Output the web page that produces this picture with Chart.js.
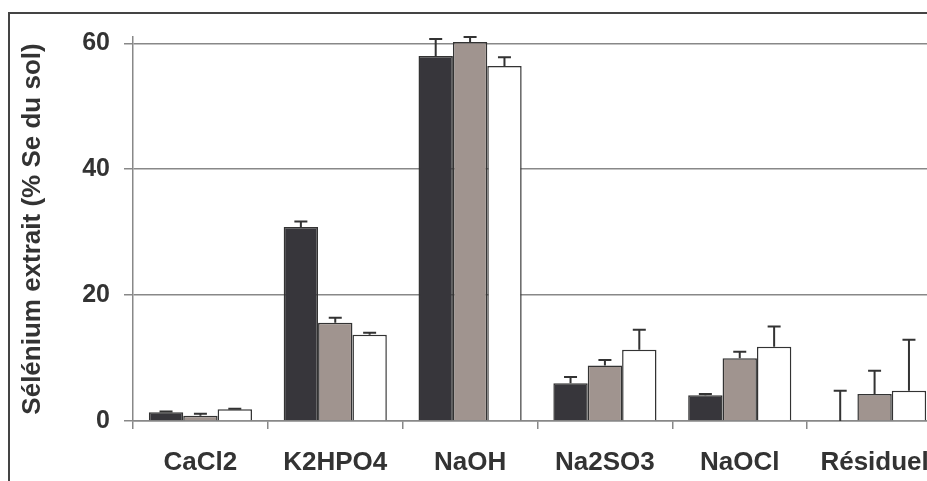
<!DOCTYPE html>
<html>
<head>
<meta charset="utf-8">
<script src="https://cdn.jsdelivr.net/npm/chart.js@4/dist/chart.umd.min.js"></script>
<style>
  html, body { margin: 0; padding: 0; background: #fff; overflow: hidden; width: 927px; height: 481px; }
  #wrap { position: relative; width: 927px; height: 481px; overflow: hidden; }
  #frame { position: absolute; left: 8px; top: 12px; width: 1000px; height: 600px; border-top: 2px solid #444; border-left: 2px solid #444; pointer-events: none; }
  canvas { position: absolute; left: 0; top: 0; }
</style>
</head>
<body>
<div id="wrap">
  <canvas id="seChart" width="960" height="481"></canvas>
  <div id="frame"></div>
</div>
<script>
const categories = ['CaCl2', 'K2HPO4', 'NaOH', 'Na2SO3', 'NaOCl', 'Résiduel'];
const serieA = [1.4, 30.8, 58.0, 6.0, 4.1, 0];
const serieB = [0.85, 15.6, 60.2, 8.8, 9.95, 4.3];
const serieC = [1.85, 13.7, 56.4, 11.3, 11.8, 4.8];
const errA = [0.1, 0.9, 2.7, 1.0, 0.2, 4.8];
const errB = [0.3, 0.8, 0.8, 0.9, 1.05, 3.7];
const errC = [0.1, 0.3, 1.4, 3.2, 3.2, 8.1];
const yTicks = [0, 20, 40, 60];

const errors = [errA, errB, errC];

const errorBarPlugin = {
    id: 'errorBars',
    afterDatasetsDraw(chart) {
        const ctx = chart.ctx;
        const yScale = chart.scales.y;
        ctx.save();
        ctx.strokeStyle = '#333';
        ctx.lineWidth = 2;
        chart.data.datasets.forEach((ds, i) => {
            const meta = chart.getDatasetMeta(i);
            meta.data.forEach((bar, j) => {
                const err = errors[i][j];
                if (!err) return;
                const yTop = yScale.getPixelForValue(ds.data[j] + err);
                const yBase = bar.y;
                ctx.beginPath();
                ctx.moveTo(bar.x, yBase);
                ctx.lineTo(bar.x, yTop);
                ctx.moveTo(bar.x - 6.5, yTop);
                ctx.lineTo(bar.x + 6.5, yTop);
                ctx.stroke();
            });
        });
        ctx.restore();
    }
};

const ctx = document.getElementById('seChart').getContext('2d');
new Chart(ctx, {
    type: 'bar',
    data: {
        labels: categories,
        datasets: [
            { label: 'A', data: serieA, backgroundColor: '#37363b', borderColor: '#333', borderWidth: 1.5 },
            { label: 'B', data: serieB, backgroundColor: '#a0948f', borderColor: '#333', borderWidth: 1.5 },
            { label: 'C', data: serieC, backgroundColor: '#ffffff', borderColor: '#333', borderWidth: 1.5 }
        ]
    },
    options: {
        responsive: false,
        animation: false,
        layout: { padding: { top: 37, right: 18, left: 0, bottom: 0 } },
        plugins: { legend: { display: false }, tooltip: { enabled: false } },
        datasets: { bar: { categoryPercentage: 0.765, barPercentage: 1.0 } },
        scales: {
            x: {
                grid: { drawOnChartArea: false, drawTicks: true, tickLength: 8, color: '#888', lineWidth: 1.5 },
                border: { color: '#888', width: 1.5 },
                ticks: { color: '#333', padding: 18, font: { family: 'Liberation Sans, Arial', size: 26, weight: 'bold' } },
                afterFit(scale) { scale.height = 60; }
            },
            y: {
                min: 0,
                max: 61,
                afterBuildTicks(scale) { scale.ticks = yTicks.map(v => ({ value: v })); },
                grid: { color: '#888', lineWidth: 1.5, tickLength: 9 },
                border: { color: '#888', width: 1.5 },
                ticks: { color: '#333', padding: 14, font: { family: 'Liberation Sans, Arial', size: 25, weight: 'bold' } },
                title: {
                    display: true,
                    text: 'Sélénium extrait (% Se du sol)',
                    color: '#333',
                    padding: { top: 17, bottom: 0 },
                    font: { family: 'Liberation Sans, Arial', size: 26, weight: 'bold' }
                },
                afterFit(scale) { scale.width = 133; }
            }
        }
    },
    plugins: [errorBarPlugin]
});
</script>
</body>
</html>
